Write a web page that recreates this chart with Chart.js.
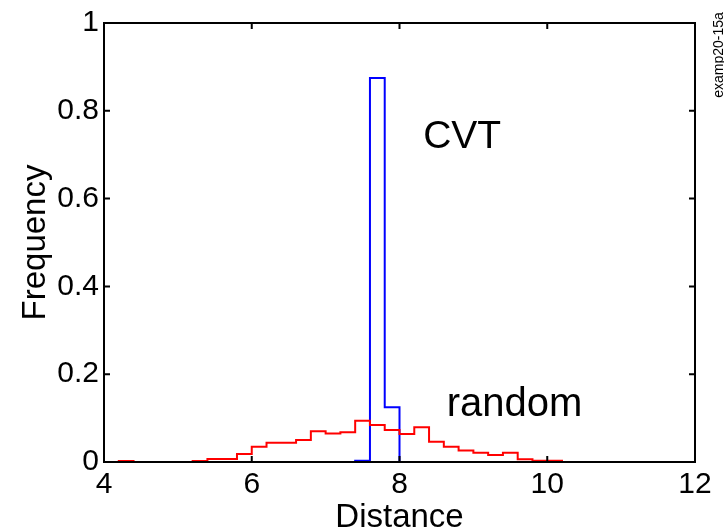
<!DOCTYPE html>
<html>
<head>
<meta charset="utf-8">
<script src="https://cdn.jsdelivr.net/npm/chart.js@4/dist/chart.umd.min.js"></script>
<style>
  html, body { margin: 0; padding: 0; background: #ffffff; }
  #wrap { width: 724px; height: 532px; }
</style>
</head>
<body>
<div id="wrap"><canvas id="c" width="724" height="532"></canvas></div>
<script>
// Histogram of nearest-neighbour distances: bin edges and relative frequencies
const randomEdges = [4.2, 4.4, 4.6, 4.8, 5.0, 5.2, 5.4, 5.6, 5.8, 6.0, 6.2, 6.4, 6.6, 6.8, 7.0, 7.2,
                     7.4, 7.6, 7.8, 8.0, 8.2, 8.4, 8.6, 8.8, 9.0, 9.2, 9.4, 9.6, 9.8, 10.0, 10.2];
const randomFreq  = [0.002, 0, 0, 0, 0, 0.002, 0.007, 0.007, 0.018, 0.035, 0.044, 0.044, 0.050, 0.070, 0.065, 0.068,
                     0.094, 0.084, 0.073, 0.064, 0.079, 0.046, 0.035, 0.026, 0.021, 0.016, 0.021, 0.006, 0.003, 0.003];
const cvtEdges = [7.4, 7.6, 7.8, 8.0];
const cvtFreq  = [0.003, 0.875, 0.125];

const xTicks = [4, 6, 8, 10, 12];
const yTicks = [0, 0.2, 0.4, 0.6, 0.8, 1];

// Text annotations anchored in data coordinates
const cvtLabel    = { text: 'CVT',    x: 8.32, y: 0.716, size: 39 };
const randomLabel = { text: 'random', x: 8.64, y: 0.105, size: 40 };
const sideTag = 'examp20-15a';

const FONT = '"Liberation Sans", Arial, Helvetica, sans-serif';

// Outline of a histogram as a stepped polyline: rise at the first edge,
// hold each bin's value across the bin, drop back to zero at the last edge.
function stairs(edges, freq) {
  const pts = [{ x: edges[0], y: 0 }];
  freq.forEach((f, i) => pts.push({ x: edges[i], y: f }));
  pts.push({ x: edges[edges.length - 1], y: 0 });
  return pts;
}

// Box around the plot area with short inward tick marks on all four sides
const framePlugin = {
  id: 'frame',
  afterDatasetsDraw(chart) {
    const { ctx, chartArea: a, scales: { x, y } } = chart;
    const len = 6;
    ctx.save();
    ctx.strokeStyle = '#000000';
    ctx.lineWidth = 2;
    ctx.beginPath();
    x.ticks.forEach(t => {
      const px = x.getPixelForValue(t.value);
      if (px > a.left + 1 && px < a.right - 1) {
        ctx.moveTo(px, a.bottom); ctx.lineTo(px, a.bottom - len);
        ctx.moveTo(px, a.top);    ctx.lineTo(px, a.top + len);
      }
    });
    y.ticks.forEach(t => {
      const py = y.getPixelForValue(t.value);
      if (py > a.top + 1 && py < a.bottom - 1) {
        ctx.moveTo(a.left, py);  ctx.lineTo(a.left + len, py);
        ctx.moveTo(a.right, py); ctx.lineTo(a.right - len, py);
      }
    });
    ctx.stroke();
    ctx.strokeRect(a.left, a.top, a.right - a.left, a.bottom - a.top);
    ctx.restore();
  }
};

// Series names written inside the plot, plus the figure tag on the right edge
const textPlugin = {
  id: 'texts',
  afterDraw(chart) {
    const { ctx, scales: { x, y } } = chart;
    ctx.save();
    ctx.fillStyle = '#000000';
    ctx.textAlign = 'left';
    ctx.textBaseline = 'alphabetic';
    [cvtLabel, randomLabel].forEach(l => {
      ctx.font = l.size + 'px ' + FONT;
      ctx.fillText(l.text, x.getPixelForValue(l.x), y.getPixelForValue(l.y));
    });
    ctx.translate(723, 55);
    ctx.rotate(-Math.PI / 2);
    ctx.textAlign = 'center';
    ctx.font = '14px ' + FONT;
    ctx.fillText(sideTag, 0, 0);
    ctx.restore();
  }
};

const tickFont = { family: FONT, size: 30 };
const titleFont = { family: FONT, size: 33, lineHeight: 1 };
const plainNumber = v => String(Math.round(v * 10) / 10);

new Chart(document.getElementById('c'), {
  type: 'line',
  data: {
    datasets: [
      {
        label: 'random',
        data: stairs(randomEdges, randomFreq),
        borderColor: '#ff0000',
        borderWidth: 2,
        stepped: 'before',
        pointRadius: 0,
        fill: false
      },
      {
        label: 'CVT',
        data: stairs(cvtEdges, cvtFreq),
        borderColor: '#0000ff',
        borderWidth: 2,
        stepped: 'before',
        pointRadius: 0,
        fill: false
      }
    ]
  },
  options: {
    responsive: false,
    animation: false,
    events: [],
    layout: { padding: { top: 22, right: 29, left: 0, bottom: 0 } },
    plugins: {
      legend: { display: false },
      tooltip: { enabled: false },
      title: { display: false }
    },
    scales: {
      x: {
        type: 'linear',
        min: 4,
        max: 12,
        afterBuildTicks: s => { s.ticks = xTicks.map(v => ({ value: v })); },
        afterFit: s => { s.height = 70; },
        grid: { display: false, drawTicks: false },
        border: { display: false },
        ticks: { color: '#000000', font: tickFont, padding: 5, maxRotation: 0, callback: plainNumber },
        title: {
          display: true,
          text: 'Distance',
          color: '#000000',
          font: titleFont,
          padding: { top: 0, bottom: -2 }
        }
      },
      y: {
        type: 'linear',
        min: 0,
        max: 1,
        afterBuildTicks: s => { s.ticks = yTicks.map(v => ({ value: v })); },
        afterFit: s => { s.width = 104; },
        grid: { display: false, drawTicks: false },
        border: { display: false },
        ticks: { color: '#000000', font: tickFont, padding: 5, callback: plainNumber },
        title: {
          display: true,
          text: 'Frequency',
          color: '#000000',
          font: titleFont,
          padding: { top: 19, bottom: 0 }
        }
      }
    }
  },
  plugins: [framePlugin, textPlugin]
});
</script>
</body>
</html>
